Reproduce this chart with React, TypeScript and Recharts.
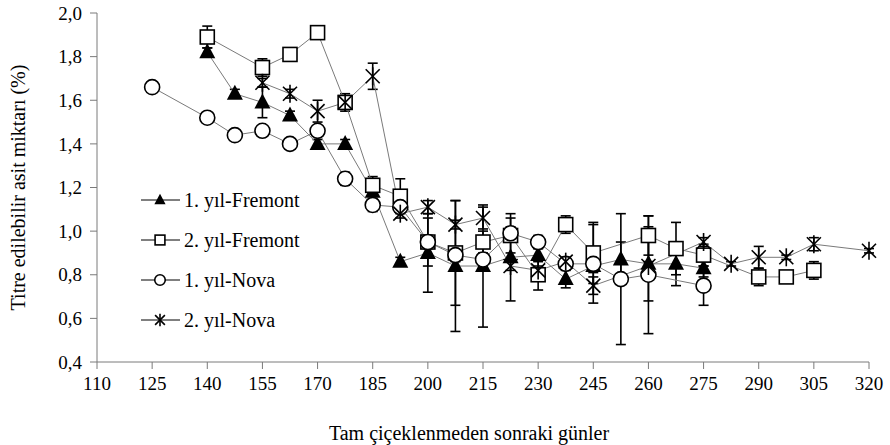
import React from "react";
import {
  LineChart,
  Line,
  XAxis,
  YAxis,
  ErrorBar,
  Legend,
} from "recharts";

const xTicks = [110, 125, 140, 155, 170, 185, 200, 215, 230, 245, 260, 275, 290, 305, 320];
const yTicks = [0.4, 0.6, 0.8, 1.0, 1.2, 1.4, 1.6, 1.8, 2.0];

// 1. yıl-Fremont
const fremont1Days = [140, 147.5, 155, 162.5, 170, 177.5, 185, 192.5, 200, 207.5, 215, 222.5, 230, 237.5, 245, 252.5, 260, 267.5, 275];
const fremont1Values = [1.82, 1.63, 1.59, 1.53, 1.4, 1.4, 1.18, 0.86, 0.9, 0.84, 0.84, 0.88, 0.89, 0.78, 0.84, 0.87, 0.85, 0.85, 0.83];
const fremont1Errors = [0.02, 0.02, 0.07, 0.02, 0.02, 0.02, 0.02, 0.02, 0.18, 0.3, 0.28, 0.2, 0.03, 0.04, 0.03, 0.08, 0.17, 0.1, 0.04];

// 2. yıl-Fremont
const fremont2Days = [140, 155, 162.5, 170, 177.5, 185, 192.5, 200, 207.5, 215, 222.5, 230, 237.5, 245, 260, 267.5, 275, 290, 297.5, 305];
const fremont2Values = [1.89, 1.75, 1.81, 1.91, 1.59, 1.21, 1.16, 0.95, 0.9, 0.95, 0.98, 0.8, 1.03, 0.9, 0.98, 0.92, 0.89, 0.79, 0.79, 0.82];
const fremont2Errors = [0.05, 0.04, 0.03, 0.02, 0.04, 0.04, 0.08, 0.11, 0.24, 0.05, 0.08, 0.07, 0.04, 0.14, 0.09, 0.12, 0.05, 0.04, 0.01, 0.04];

// 1. yıl-Nova
const nova1Days = [125, 140, 147.5, 155, 162.5, 170, 177.5, 185, 192.5, 200, 207.5, 215, 222.5, 230, 237.5, 245, 252.5, 260, 275];
const nova1Values = [1.66, 1.52, 1.44, 1.46, 1.4, 1.46, 1.24, 1.12, 1.11, 0.95, 0.89, 0.87, 0.99, 0.95, 0.85, 0.85, 0.78, 0.8, 0.75];
const nova1Errors = [0.01, 0.01, 0.01, 0.01, 0.01, 0.01, 0.03, 0.03, 0.02, 0.03, 0.03, 0.02, 0.03, 0.03, 0.02, 0.18, 0.3, 0.27, 0.09];

// 2. yıl-Nova
const nova2Days = [155, 162.5, 170, 177.5, 185, 192.5, 200, 207.5, 215, 222.5, 230, 237.5, 245, 260, 275, 282.5, 290, 297.5, 305, 320];
const nova2Values = [1.68, 1.63, 1.55, 1.59, 1.71, 1.08, 1.11, 1.03, 1.06, 0.84, 0.82, 0.86, 0.75, 0.84, 0.95, 0.85, 0.88, 0.88, 0.94, 0.91];
const nova2Errors = [0.02, 0.02, 0.05, 0.02, 0.06, 0.02, 0.03, 0.02, 0.05, 0.02, 0.02, 0.02, 0.04, 0.02, 0.02, 0.01, 0.05, 0.01, 0.03, 0.01];

const toRows = (days: number[], values: number[], errors: number[]) =>
  days.map((day, i) => ({ day, value: values[i], err: errors[i] }));

const FONT = "Liberation Serif";
const LINE_COLOR = "#7a7a7a";

type Shape = "triangle" | "square" | "circle" | "star";

function Marker({ shape, cx, cy, s = 1 }: { shape: Shape; cx: number; cy: number; s?: number }) {
  if (cx == null || cy == null) return null;
  if (shape === "triangle") {
    return (
      <path
        d={`M${cx},${cy - 9 * s} L${cx + 8 * s},${cy + 6 * s} L${cx - 8 * s},${cy + 6 * s} Z`}
        fill="#000"
      />
    );
  }
  if (shape === "square") {
    return (
      <rect x={cx - 7 * s} y={cy - 7 * s} width={14 * s} height={14 * s} fill="#fff" stroke="#000" strokeWidth={1.6} />
    );
  }
  if (shape === "circle") {
    return <circle cx={cx} cy={cy} r={7.5 * s} fill="#fff" stroke="#000" strokeWidth={1.6} />;
  }
  return (
    <g stroke="#000" strokeWidth={1.6}>
      <line x1={cx} y1={cy - 9 * s} x2={cx} y2={cy + 9 * s} />
      <line x1={cx - 7 * s} y1={cy - 7 * s} x2={cx + 7 * s} y2={cy + 7 * s} />
      <line x1={cx + 7 * s} y1={cy - 7 * s} x2={cx - 7 * s} y2={cy + 7 * s} />
    </g>
  );
}

const dotFor = (shape: Shape) => (props: any) =>
  <Marker key={`${shape}-${props.index}`} shape={shape} cx={props.cx} cy={props.cy} />;

const legendItems: { name: string; shape: Shape }[] = [
  { name: "1. yıl-Fremont", shape: "triangle" },
  { name: "2. yıl-Fremont", shape: "square" },
  { name: "1. yıl-Nova", shape: "circle" },
  { name: "2. yıl-Nova", shape: "star" },
];

function renderLegend() {
  return (
    <div style={{ fontFamily: FONT, fontSize: 20, color: "#000" }}>
      {legendItems.map((item) => (
        <div key={item.name} style={{ display: "flex", alignItems: "center", height: 40 }}>
          <svg width={42} height={20} style={{ marginRight: 2 }}>
            <line x1={1} y1={10} x2={40} y2={10} stroke="#000" strokeWidth={1} />
            <Marker shape={item.shape} cx={20} cy={10} s={0.7} />
          </svg>
          <span>{item.name}</span>
        </div>
      ))}
    </div>
  );
}

export default function App() {
  return (
    <div style={{ position: "absolute", left: 0, top: 0, width: 890, height: 445, background: "#fff" }}>
      <LineChart width={890} height={445} margin={{ top: 13, right: 21, left: 0, bottom: 0 }}>
        <XAxis
          dataKey="day"
          type="number"
          domain={[110, 320]}
          ticks={xTicks}
          allowDuplicatedCategory={false}
          height={83}
          stroke={LINE_COLOR}
          tickSize={7}
          tickMargin={8}
          tick={{ fill: "#000", fontSize: 19, fontFamily: FONT }}
          label={{
            value: "Tam çiçeklenmeden  sonraki günler",
            position: "insideBottom",
            offset: 5,
            dx: -14,
            style: { fill: "#000", fontSize: 20, fontFamily: FONT },
          }}
        />
        <YAxis
          type="number"
          domain={[0.4, 2.0]}
          ticks={yTicks}
          width={97}
          stroke={LINE_COLOR}
          tickSize={7}
          tickMargin={8}
          tickFormatter={(v: number) => v.toFixed(1).replace(".", ",")}
          tick={{ fill: "#000", fontSize: 19, fontFamily: FONT }}
          label={{
            value: "Titre edilebilir asit miktarı (%)",
            angle: -90,
            position: "insideLeft",
            offset: 18,
            style: { textAnchor: "middle", fill: "#000", fontSize: 20, fontFamily: FONT },
          }}
        />
        <Legend
          layout="horizontal"
          verticalAlign="middle"
          align="center"
          content={renderLegend}
          wrapperStyle={{ left: 140, top: 180, width: 190, height: 165 }}
        />
        <Line
          data={toRows(fremont1Days, fremont1Values, fremont1Errors)}
          dataKey="value"
          name="1. yıl-Fremont"
          stroke={LINE_COLOR}
          strokeWidth={1}
          dot={dotFor("triangle")}
          activeDot={false}
          isAnimationActive={false}
        >
          <ErrorBar dataKey="err" direction="y" width={5} stroke="#000" strokeWidth={1.6} />
        </Line>
        <Line
          data={toRows(fremont2Days, fremont2Values, fremont2Errors)}
          dataKey="value"
          name="2. yıl-Fremont"
          stroke={LINE_COLOR}
          strokeWidth={1}
          dot={dotFor("square")}
          activeDot={false}
          isAnimationActive={false}
        >
          <ErrorBar dataKey="err" direction="y" width={5} stroke="#000" strokeWidth={1.6} />
        </Line>
        <Line
          data={toRows(nova1Days, nova1Values, nova1Errors)}
          dataKey="value"
          name="1. yıl-Nova"
          stroke={LINE_COLOR}
          strokeWidth={1}
          dot={dotFor("circle")}
          activeDot={false}
          isAnimationActive={false}
        >
          <ErrorBar dataKey="err" direction="y" width={5} stroke="#000" strokeWidth={1.6} />
        </Line>
        <Line
          data={toRows(nova2Days, nova2Values, nova2Errors)}
          dataKey="value"
          name="2. yıl-Nova"
          stroke={LINE_COLOR}
          strokeWidth={1}
          dot={dotFor("star")}
          activeDot={false}
          isAnimationActive={false}
        >
          <ErrorBar dataKey="err" direction="y" width={5} stroke="#000" strokeWidth={1.6} />
        </Line>
      </LineChart>
    </div>
  );
}
